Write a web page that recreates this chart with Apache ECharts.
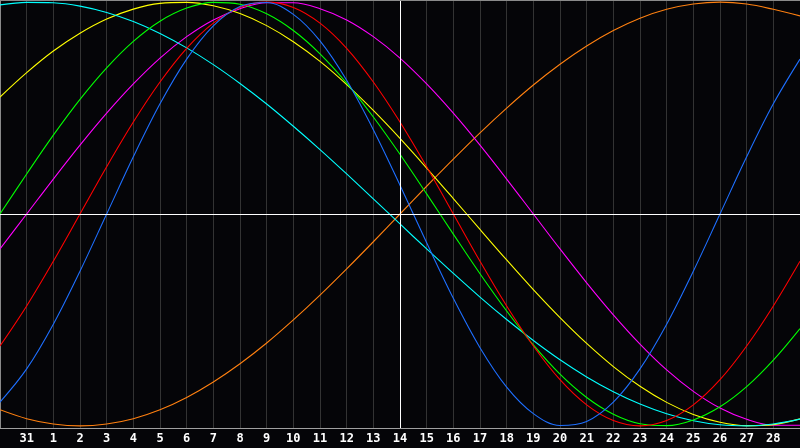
<!DOCTYPE html>
<html>
<head>
<meta charset="utf-8">
<script src="https://cdn.jsdelivr.net/npm/echarts@6/dist/echarts.min.js"></script>
<style>
html,body{margin:0;padding:0;background:#050508;}
#c{width:800px;height:448px;}
</style>
</head>
<body>
<div id="c"></div>
<script>
// x positions (day index; 0 = day "31", 1..28 = days 1..28)
const dayIndex = [-1,0,1,2,3,4,5,6,7,8,9,10,11,12,13,14,15,16,17,18,19,20,21,22,23,24,25,26,27,28,29];
// tick labels for indices 0..28
const dayLabels = ['31','1','2','3','4','5','6','7','8','9','10','11','12','13','14','15','16','17','18','19','20','21','22','23','24','25','26','27','28'];

const blueVals = [-0.888,-0.731,-0.520,-0.270,0,0.270,0.520,0.731,0.888,0.979,0.998,0.942,0.817,0.631,0.398,0.136,-0.136,-0.398,-0.631,-0.817,-0.942,-0.998,-0.979,-0.888,-0.731,-0.520,-0.270,0,0.270,0.520,0.731];
const redVals = [-0.623,-0.434,-0.223,0,0.223,0.434,0.623,0.782,0.901,0.975,1,0.975,0.901,0.782,0.623,0.434,0.223,0,-0.223,-0.434,-0.623,-0.782,-0.901,-0.975,-1,-0.975,-0.901,-0.782,-0.623,-0.434,-0.223];
const greenVals = [0,0.189,0.372,0.541,0.690,0.815,0.910,0.972,0.999,0.990,0.945,0.866,0.756,0.618,0.458,0.282,0.095,-0.095,-0.282,-0.458,-0.618,-0.756,-0.866,-0.945,-0.990,-0.999,-0.972,-0.910,-0.815,-0.690,-0.541];
const magentaVals = [-0.165,0,0.165,0.325,0.476,0.614,0.736,0.837,0.916,0.969,0.997,0.997,0.969,0.916,0.837,0.736,0.614,0.476,0.325,0.165,0,-0.165,-0.325,-0.476,-0.614,-0.736,-0.837,-0.916,-0.969,-0.997,-0.997];
const yellowVals = [0.552,0.667,0.769,0.853,0.920,0.967,0.994,0.999,0.983,0.946,0.889,0.813,0.720,0.611,0.489,0.357,0.217,0.073,-0.073,-0.217,-0.357,-0.489,-0.611,-0.720,-0.813,-0.889,-0.946,-0.983,-0.999,-0.994,-0.967];
const orangeVals = [-0.924,-0.966,-0.991,-1,-0.991,-0.966,-0.924,-0.866,-0.793,-0.707,-0.609,-0.5,-0.383,-0.259,-0.131,0,0.131,0.259,0.383,0.5,0.609,0.707,0.793,0.866,0.924,0.966,0.991,1,0.991,0.966,0.935];
const cyanVals = [0.987,0.999,0.997,0.981,0.951,0.908,0.852,0.784,0.705,0.616,0.519,0.414,0.304,0.189,0.071,-0.047,-0.165,-0.280,-0.392,-0.498,-0.597,-0.688,-0.769,-0.839,-0.897,-0.943,-0.976,-0.995,-1.000,-0.991,-0.968];

const seriesDefs = [
  {name:'orange', vals: orangeVals, color:'#ff8010'},
  {name:'magenta', vals: magentaVals, color:'#ff00ff'},
  {name:'yellow', vals: yellowVals, color:'#ffff00'},
  {name:'cyan', vals: cyanVals, color:'#00ffff'},
  {name:'green', vals: greenVals, color:'#00ff00'},
  {name:'red', vals: redVals, color:'#ff0000'},
  {name:'blue', vals: blueVals, color:'#1e6fff'}
];

const chart = echarts.init(document.getElementById('c'), null, {renderer:'canvas'});

const series = seriesDefs.map(function(s){
  return {
    name: s.name,
    type: 'line',
    smooth: 0.35,
    showSymbol: false,
    symbol: 'none',
    silent: true,
    data: dayIndex.map(function(x,i){ return [x, s.vals[i]]; }),
    lineStyle: {color: s.color, width: 1.1},
    z: 3
  };
});

series.push({
  type: 'line',
  data: [],
  silent: true,
  markLine: {
    silent: true,
    symbol: ['none','none'],
    label: {show:false},
    lineStyle: {color:'#ffffff', width:1, type:'solid'},
    data: [{xAxis: 14}, {yAxis: 0}]
  },
  z: 2
});

chart.setOption({
  backgroundColor: '#050508',
  animation: false,
  grid: {left: 0, right: 0, top: 0, bottom: 20, containLabel: false},
  xAxis: {
    type: 'value',
    min: -1,
    max: 29,
    interval: 1,
    axisLine: {show: true, onZero: false, lineStyle: {color:'#a0a0a0', width:1}},
    axisTick: {show: false},
    splitLine: {show: true, lineStyle: {color:'#333333', width:1}},
    axisLabel: {
      show: true,
      color: '#ffffff',
      fontFamily: 'DejaVu Sans Mono',
      fontWeight: 'bold',
      fontSize: 12,
      margin: 5,
      showMinLabel: false,
      showMaxLabel: false,
      formatter: function(v){
        const idx = Math.round(v);
        return (idx >= 0 && idx < dayLabels.length) ? dayLabels[idx] : '';
      }
    }
  },
  yAxis: {
    type: 'value',
    min: -1.01,
    max: 1.01,
    axisLine: {show: true, onZero: false, lineStyle: {color:'#8a8a8a', width:1}},
    axisTick: {show: false},
    axisLabel: {show: false},
    splitLine: {show: false}
  },
  graphic: [{
    type: 'line',
    shape: {x1: 0, y1: 0.5, x2: 800, y2: 0.5},
    style: {stroke: '#8a8a8a', lineWidth: 1},
    silent: true,
    z: 10
  }],
  series: series
});
</script>
</body>
</html>
